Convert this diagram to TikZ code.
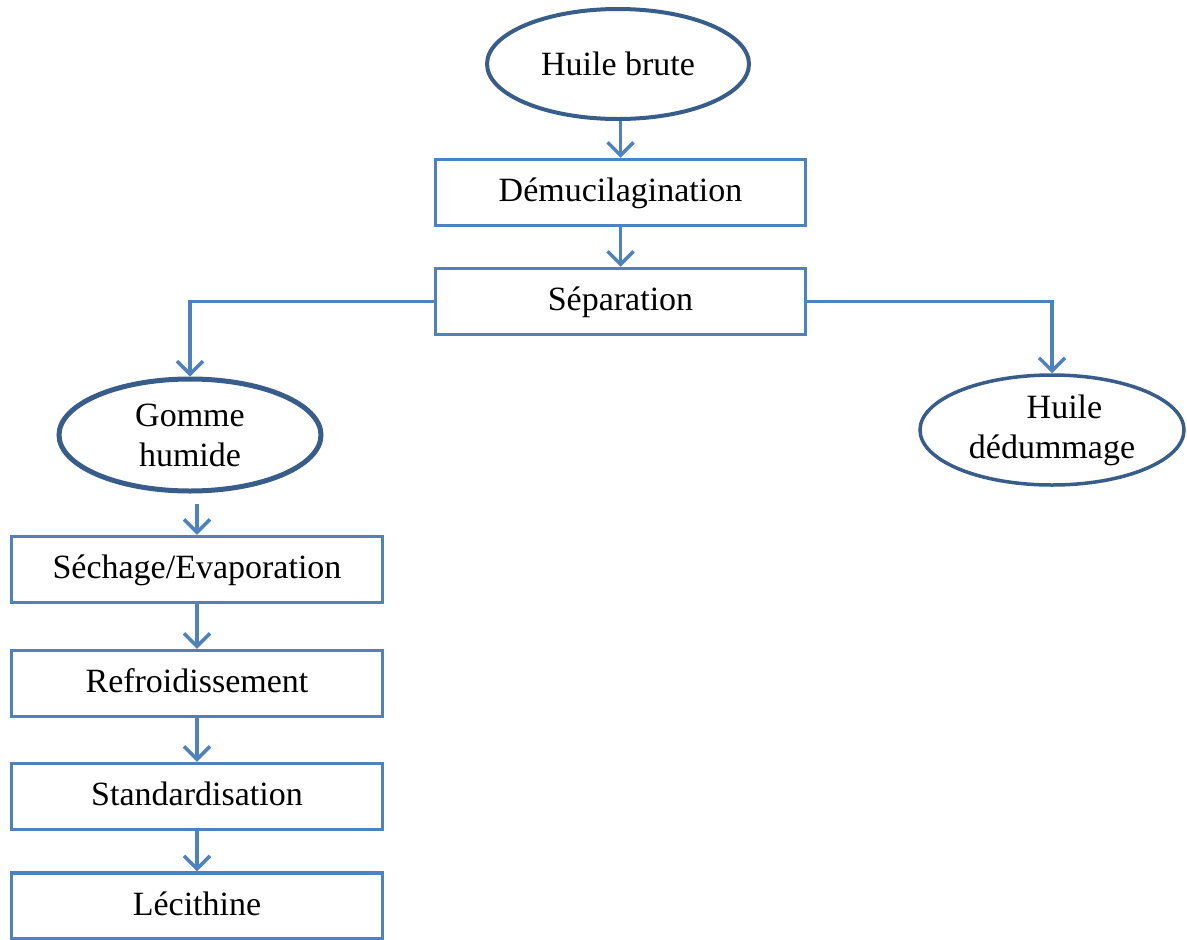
\documentclass[tikz,border=0pt]{standalone}
\usepackage{fontspec}
\setmainfont{Liberation Serif}
\usetikzlibrary{shapes.geometric,arrows.meta}
\definecolor{boxblue}{HTML}{4F81BD}
\definecolor{ellblue}{HTML}{385D8A}
\tikzset{
  stepbox/.style={draw=boxblue, line width=3.5pt, rectangle, inner sep=0pt,
    minimum width=370pt, minimum height=66pt, text height=24pt, text depth=6pt,
    font=\fontsize{34}{40}\selectfont},
  ellnode/.style={draw=ellblue, line width=4pt, ellipse, inner sep=0pt,
    minimum width=262pt, minimum height=110pt, align=center,
    font=\fontsize{34}{40}\selectfont},
  arr/.style={draw=boxblue, line width=3.5pt,
    -{Straight Barb[length=13pt,width=26pt,line width=3.5pt]}}
}
\begin{document}
\begin{tikzpicture}[x=1pt,y=-1pt]
\useasboundingbox (0,0) rectangle (1187,940);
\node[ellnode] (hb) at (618,64) {Huile brute};
\node[stepbox] (dem) at (620.5,192.5) {Démucilagination};
\node[stepbox] (sep) at (620.5,301.5) {Séparation};
\node[ellnode, line width=5pt, minimum width=262pt, minimum height=112pt] (gh) at (190,435) {Gomme\\humide};
\node[ellnode, line width=3.5pt, minimum width=264pt, minimum height=110pt] (hd) at (1052,430) {\hspace*{25pt}Huile\\dédummage};
\node[stepbox, minimum width=371pt] (sech) at (197,569.5) {Séchage/Evaporation};
\node[stepbox, minimum width=371pt] (ref) at (197,683.5) {Refroidissement};
\node[stepbox, minimum width=371pt] (std) at (197,796.5) {Standardisation};
\node[stepbox, minimum width=371pt] (lec) at (197,906) {Lécithine};

\draw[arr] (hb.south -| dem.north) -- (dem.north);
\draw[arr] (dem.south) -- (sep.north);
\draw[arr] (sep.west) -| (gh.north);
\draw[arr] (sep.east) -| (hd.north);
\draw[arr, shorten <=10pt] (gh.south -| sech.north) -- (sech.north);
\draw[arr] (sech.south) -- (ref.north);
\draw[arr] (ref.south) -- (std.north);
\draw[arr] (std.south) -- (lec.north);
\end{tikzpicture}
\end{document}
